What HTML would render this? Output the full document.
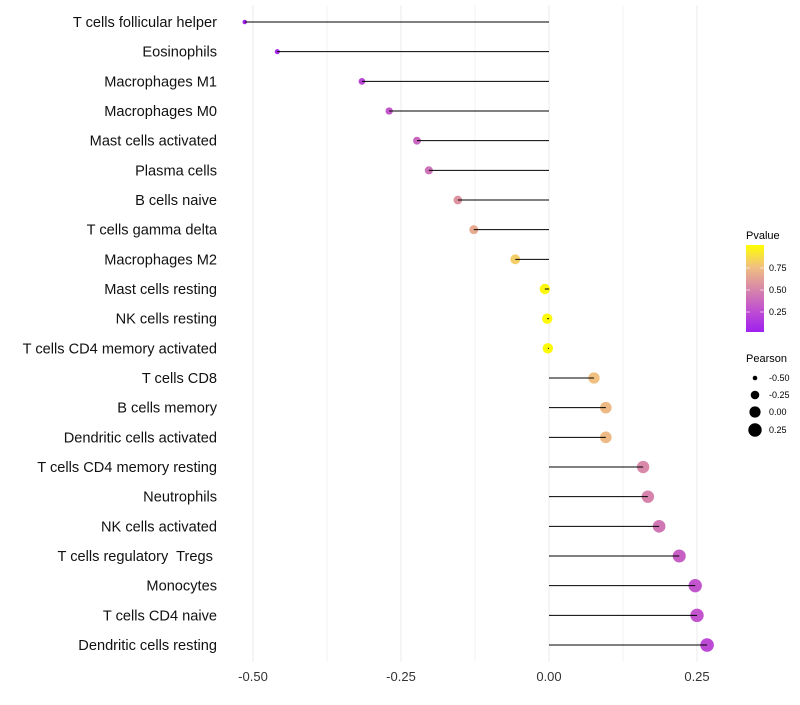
<!DOCTYPE html>
<html><head><meta charset="utf-8"><style>
body{margin:0;background:#fff;font-family:"Liberation Sans",sans-serif}
svg text{font-family:"Liberation Sans",sans-serif}
</style></head><body>
<svg id="chart" width="800" height="700" xmlns="http://www.w3.org/2000/svg">
<defs><linearGradient id="pg" x1="0" y1="1" x2="0" y2="0">
<stop offset="0" stop-color="#a020f0"/><stop offset="0.25" stop-color="#c050d0"/><stop offset="0.5" stop-color="#d888a8"/><stop offset="0.75" stop-color="#f0c080"/><stop offset="1" stop-color="#ffff00"/></linearGradient></defs>
<g id="grid"></g><g id="marks"></g><g id="labels"></g>
<g>
<text x="746" y="239" font-size="11" fill="#000">Pvalue</text>
<rect x="746" y="245" width="18" height="87" fill="url(#pg)"/>
<line x1="746" y1="268" x2="750" y2="268" stroke="#fff" stroke-opacity="0.6"/><line x1="760" y1="268" x2="764" y2="268" stroke="#fff" stroke-opacity="0.6"/>
<line x1="746" y1="290" x2="750" y2="290" stroke="#fff" stroke-opacity="0.6"/><line x1="760" y1="290" x2="764" y2="290" stroke="#fff" stroke-opacity="0.6"/>
<line x1="746" y1="312" x2="750" y2="312" stroke="#fff" stroke-opacity="0.6"/><line x1="760" y1="312" x2="764" y2="312" stroke="#fff" stroke-opacity="0.6"/>
<text x="769" y="271" font-size="9">0.75</text><text x="769" y="293" font-size="9">0.50</text><text x="769" y="315" font-size="9">0.25</text>
</g>
<g>
<text x="746" y="362" font-size="11">Pearson</text>
<circle cx="755" cy="378" r="2.3"/><text x="769" y="381" font-size="9">-0.50</text>
<circle cx="755" cy="395" r="4.3"/><text x="769" y="398" font-size="9">-0.25</text>
<circle cx="755" cy="412" r="5.6"/><text x="769" y="415" font-size="9">0.00</text>
<circle cx="755" cy="430" r="6.7"/><text x="769" y="433" font-size="9">0.25</text>
</g>
</svg>
<script>
const categories=["T cells follicular helper","Eosinophils","Macrophages M1","Macrophages M0","Mast cells activated","Plasma cells","B cells naive","T cells gamma delta","Macrophages M2","Mast cells resting","NK cells resting","T cells CD4 memory activated","T cells CD8","B cells memory","Dendritic cells activated","T cells CD4 memory resting","Neutrophils","NK cells activated","T cells regulatory  Tregs ","Monocytes","T cells CD4 naive","Dendritic cells resting"];
const pearson=[-0.514,-0.459,-0.316,-0.270,-0.223,-0.203,-0.154,-0.127,-0.057,-0.007,-0.003,-0.002,0.076,0.096,0.096,0.159,0.167,0.186,0.220,0.247,0.250,0.267];
const pvalue=[0.02,0.05,0.2,0.28,0.35,0.4,0.55,0.65,0.8,0.97,0.98,0.99,0.75,0.72,0.72,0.5,0.48,0.42,0.32,0.27,0.27,0.22];
const xTicks=[-0.5,-0.25,0,0.25];
const xTickLabels=["-0.50","-0.25","0.00","0.25"];
const NS="http://www.w3.org/2000/svg";
const x=v=>549+v*592, y=i=>22+i*29.667;
const rad=v=>2.3+(v+0.5)*(6.7-2.3)/0.75;
const stops=[[0,[160,32,240]],[0.25,[192,80,208]],[0.5,[216,136,168]],[0.75,[240,192,128]],[1,[255,255,0]]];
function col(p){for(let k=1;k<stops.length;k++){if(p<=stops[k][0]){const a=stops[k-1],b=stops[k],t=(p-a[0])/(b[0]-a[0]);return "rgb("+a[1].map((c,j)=>Math.round(c+(b[1][j]-c)*t)).join(",")+")";}}return "rgb(255,255,0)";}
function mk(t,a,parent){const e=document.createElementNS(NS,t);for(const k in a)e.setAttribute(k,a[k]);parent.appendChild(e);return e;}
const grid=document.getElementById("grid"),marks=document.getElementById("marks"),labels=document.getElementById("labels");
for(let v=-0.5;v<=0.3;v+=0.125){const g=mk("line",{x1:x(v),x2:x(v),y1:5,y2:662,stroke:"#ebebeb","stroke-width":Math.abs(v*4-Math.round(v*4))<1e-6?1:0.6},grid);

}
xTicks.forEach((v,i)=>{const t=mk("text",{x:x(v),y:681,"font-size":13,"text-anchor":"middle",fill:"#333"},labels);t.textContent=xTickLabels[i];

});
categories.forEach((c,i)=>{
const t=mk("text",{x:217,y:y(i)+5,"font-size":14.6,"text-anchor":"end",fill:"#111","xml:space":"preserve",style:"white-space:pre"},labels);t.textContent=c;


const d=mk("circle",{cx:x(pearson[i]),cy:y(i),r:rad(pearson[i]),fill:col(pvalue[i])},marks);


const l=mk("line",{x1:x(0),x2:x(pearson[i]),y1:y(i),y2:y(i),stroke:"#000","stroke-width":1},marks);


});
</script>
</body></html>
